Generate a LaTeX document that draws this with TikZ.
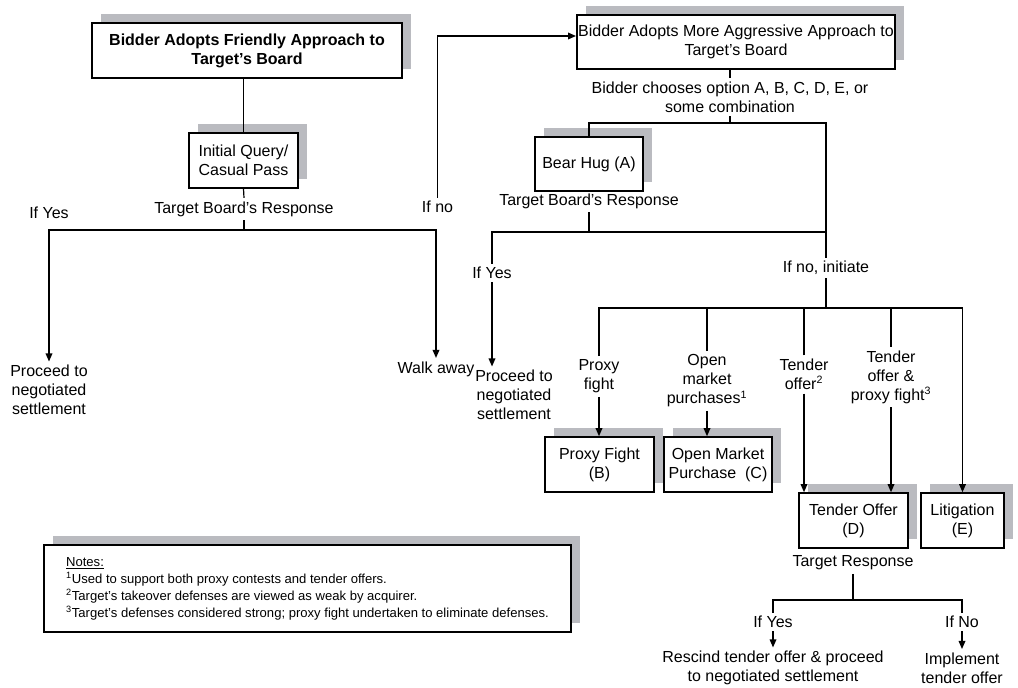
\documentclass[tikz,border=0pt]{standalone}
\usepackage{fontspec}
\setmainfont{Liberation Sans}
\usetikzlibrary{arrows.meta, shadows}
\definecolor{shadowgray}{RGB}{186,187,192}

\tikzset{
  boxfont/.style={font=\fontsize{12}{14.3}\selectfont},
  shadowbox/.style={boxfont, draw, line width=1.2pt, fill=white, align=center, inner sep=1.5pt,
    general shadow={fill=shadowgray, shadow xshift=6.75pt, shadow yshift=6.75pt}},
  lbl/.style={boxfont, align=center, inner sep=2.5pt},
  conn/.style={line width=0.9pt},
}

\begin{document}
\begin{tikzpicture}[x=0.75pt, y=-0.75pt, >={Triangle[length=6pt,width=5pt]}]
  \useasboundingbox (0,0) rectangle (1018,688);
  % boxes
  \node[shadowbox, minimum width=232.5pt, minimum height=41.25pt, font=\fontsize{12}{14.3}\selectfont\bfseries] (friendly) at (247,50.5) {Bidder Adopts Friendly Approach to\\Target’s Board};
  \node[shadowbox, minimum width=81.75pt, minimum height=41.25pt] (query) at (243.5,160.5) {Initial Query/\\Casual Pass};
  \node[shadowbox, minimum width=238.5pt, minimum height=40.5pt, inner sep=1pt] (aggressive) at (736,42) {Bidder Adopts More Aggressive Approach to\\Target’s Board};
  \node[shadowbox, minimum width=81pt, minimum height=40.5pt] (bear) at (589,164) {Bear Hug (A)};
  \node[shadowbox, minimum width=81.75pt, minimum height=41.25pt] (proxyB) at (599.5,464.5) {Proxy Fight\\(B)};
  \node[shadowbox, minimum width=81pt, minimum height=41.25pt] (openC) at (718,464.5) {Open Market\\Purchase~~(C)};
  \node[shadowbox, minimum width=81.75pt, minimum height=41.25pt] (tenderD) at (853.5,520.5) {Tender Offer\\(D)};
  \node[shadowbox, minimum width=62.25pt, minimum height=41.25pt] (lit) at (962.5,520.5) {Litigation\\(E)};
  \node[shadowbox, minimum width=395.25pt, minimum height=65.25pt, align=left, font=\fontsize{9.8}{12.75}\selectfont] (notes) at (307.5,588.5) {\underline{Notes:}\\
    \textsuperscript{1}Used to support both proxy contests and tender offers.\\
    \textsuperscript{2}Target’s takeover defenses are viewed as weak by acquirer.\\
    \textsuperscript{3}Target’s defenses considered strong; proxy fight undertaken to eliminate defenses.};
  % labels
  \node[lbl] (resp1) at (244,209) {Target Board’s Response};
  \node[lbl] (yes1) at (49,213) {If Yes};
  \node[lbl] (proceed1) at (49,390) {Proceed to\\negotiated\\settlement};
  \node[lbl] (ifno) at (437.5,207) {If no};
  \node[lbl] (walk) at (436,369) {Walk away};
  \node[lbl] (choose) at (730,97) {Bidder chooses option A, B, C, D, E, or\\some combination};
  \node[lbl] (resp2) at (589,201) {Target Board’s Response};
  \node[lbl] (yes2) at (492,273) {If Yes};
  \node[lbl] (proceed2) at (514,395) {Proceed to\\negotiated\\settlement};
  \node[lbl] (initiate) at (826,268) {If no, initiate};
  \node[lbl] (proxylbl) at (599,376.5) {Proxy\\fight};
  \node[lbl] (openlbl) at (707,381) {Open\\market\\purchases\textsuperscript{1}};
  \node[lbl] (tenderlbl) at (804,374.5) {Tender\\offer\textsuperscript{2}};
  \node[lbl] (bothlbl) at (891,377) {Tender\\offer \&\\proxy fight\textsuperscript{3}};
  \node[lbl] (tresp) at (853,563) {Target Response};
  \node[lbl] (yes3) at (773,622) {If Yes};
  \node[lbl] (no3) at (962,622) {If No};
  \node[lbl] (rescind) at (773,668) {Rescind tender offer \& proceed\\to negotiated settlement};
  \node[lbl] (implement) at (962,668) {Implement\\tender offer};
  % friendly approach
  \draw[conn] (query.north |- friendly.south) -- (query.north);
  \draw[conn] (query.south) -- (resp1.north);
  \coordinate (j1) at (244,230);
  \draw[conn] (resp1.south) -- (j1);
  \draw[conn,->] (j1) -| (proceed1.north);
  \draw[conn,->] (j1) -| (walk.north);
  \draw[conn,->] (ifno.north) |- ([yshift=4.5pt]aggressive.west);
  % aggressive approach
  \draw[conn] (choose.north |- aggressive.south) -- (choose.north);
  \coordinate (j2) at (730,123);
  \draw[conn] (choose.south) -- (j2);
  \draw[conn] (bear.north) |- (j2) -| (initiate.north);
  \draw[conn] (bear.south) -- (resp2.north);
  \coordinate (j3) at (589,232);
  \draw[conn] (resp2.south) -- (j3);
  \draw[conn] (yes2.north) |- (initiate.north |- j3);
  \draw[conn,->] (yes2.south) -- (yes2.south |- proceed2.north);
  % options
  \coordinate (j4) at (826,308);
  \draw[conn] (initiate.south) -- (j4);
  \draw[conn] (proxylbl.north) |- (j4);
  \draw[conn,->] (j4) -| (lit.north);
  \draw[conn] (openlbl.north) -- (openlbl.north |- j4);
  \draw[conn] (tenderlbl.north) -- (tenderlbl.north |- j4);
  \draw[conn] (bothlbl.north) -- (bothlbl.north |- j4);
  \draw[conn,->] (proxylbl.south) -- (proxylbl.south |- proxyB.north);
  \draw[conn,->] (openlbl.south) -- (openlbl.south |- openC.north);
  \draw[conn,->] (tenderlbl.south) -- (tenderlbl.south |- tenderD.north);
  \draw[conn,->] (bothlbl.south) -- (bothlbl.south |- tenderD.north);
  % tender offer response
  \coordinate (j5) at (853,600);
  \draw[conn] (tresp.south) -- (j5);
  \draw[conn] (yes3.north) |- (j5) -| (no3.north);
  \draw[conn,->] (yes3.south) -- (yes3.south |- rescind.north);
  \draw[conn,->] (no3.south) -- (no3.south |- implement.north);
\end{tikzpicture}
\end{document}
